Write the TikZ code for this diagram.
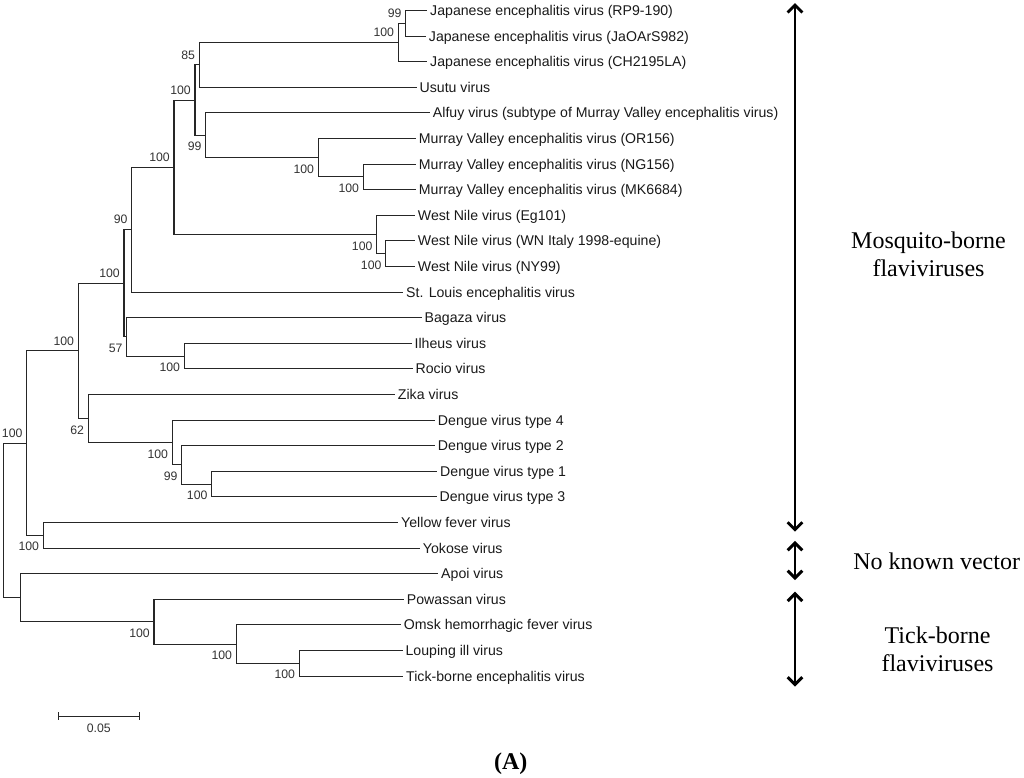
\documentclass[tikz,border=0pt]{standalone}
\usepackage{fontspec}
\setmainfont{Liberation Serif}
\newfontfamily\arialfont{Liberation Sans}
\usetikzlibrary{arrows.meta}

\begin{document}
\begin{tikzpicture}
[x=0.75pt, y=-19.2pt,
every node/.style={inner sep=0pt},
leaf/.style={anchor=west, inner xsep=2pt, text height=7.6pt, text depth=0pt, font=\fontsize{10.6}{12}\arialfont, text=black!90},
bootup/.style={anchor=east, font=\fontsize{9.2}{11}\arialfont, text=black!80, xshift=-3pt, yshift=7.5pt},
bootdown/.style={anchor=east, font=\fontsize{9.2}{11}\arialfont, text=black!80, xshift=-3pt, yshift=-8.6pt},
branch/.style={line width=0.8pt, draw=black!85},
group/.style={line width=2.2pt, {Straight Barb[length=5.5pt,width=11pt]}-{Straight Barb[length=5.5pt,width=11pt]}},
grouplabel/.style={align=center, font=\fontsize{18}{21}\selectfont}]
\useasboundingbox (0,-0.41) rectangle (1024,29.98);
% leaves
\node (1) [leaf] at (427.3, 0) {Japanese encephalitis virus (RP9-190)};
\node (2) [leaf] at (426.0, 1) {Japanese encephalitis virus (JaOArS982)};
\node (3) [leaf] at (427.3, 2) {Japanese encephalitis virus (CH2195LA)};
\node (4) [leaf] at (416.7, 3) {Usutu virus};
\node (5) [leaf] at (430.0, 4) {Alfuy virus (subtype of Murray Valley encephalitis virus)};
\node (6) [leaf] at (416.0, 5) {Murray Valley encephalitis virus (OR156)};
\node (7) [leaf] at (416.0, 6) {Murray Valley encephalitis virus (NG156)};
\node (8) [leaf] at (416.0, 7) {Murray Valley encephalitis virus (MK6684)};
\node (9) [leaf] at (415.0, 8) {West Nile virus (Eg101)};
\node (10) [leaf] at (415.0, 9) {West Nile virus (WN Italy 1998-equine)};
\node (11) [leaf] at (415.0, 10) {West Nile virus (NY99)};
\node (12) [leaf] at (403.3, 11) {St. Louis encephalitis virus};
\node (13) [leaf] at (421.7, 12) {Bagaza virus};
\node (14) [leaf] at (411.7, 13) {Ilheus virus};
\node (15) [leaf] at (412.7, 14) {Rocio virus};
\node (16) [leaf] at (395.0, 15) {Zika virus};
\node (17) [leaf] at (435.0, 16) {Dengue virus type 4};
\node (18) [leaf] at (435.0, 17) {Dengue virus type 2};
\node (19) [leaf] at (437.3, 18) {Dengue virus type 1};
\node (20) [leaf] at (436.7, 19) {Dengue virus type 3};
\node (21) [leaf] at (398.3, 20) {Yellow fever virus};
\node (22) [leaf] at (420.0, 21) {Yokose virus};
\node (23) [leaf] at (438.3, 22) {Apoi virus};
\node (24) [leaf] at (404.0, 23) {Powassan virus};
\node (25) [leaf] at (401.0, 24) {Omsk hemorrhagic fever virus};
\node (26) [leaf] at (402.7, 25) {Louping ill virus};
\node (27) [leaf] at (403.3, 26) {Tick-borne encephalitis virus};
% inner nodes
\coordinate (28) at (405.7, 0.5);
\coordinate (29) at (398.3, 1.25);
\coordinate (30) at (199.3, 2.125);
\coordinate (31) at (363.3, 6.5);
\coordinate (32) at (318.3, 5.75);
\coordinate (33) at (205.7, 4.875);
\coordinate (34) at (195.0, 3.5);
\coordinate (35) at (385.7, 9.5);
\coordinate (36) at (376.7, 8.75);
\coordinate (37) at (174.0, 6.125);
\coordinate (38) at (131.7, 8.5625);
\coordinate (39) at (184.3, 13.5);
\coordinate (40) at (126.7, 12.75);
\coordinate (41) at (124.0, 10.65625);
\coordinate (42) at (211.7, 18.5);
\coordinate (43) at (181.7, 17.75);
\coordinate (44) at (172.3, 16.875);
\coordinate (45) at (88.3, 15.9375);
\coordinate (46) at (78.3, 13.296875);
\coordinate (47) at (43.3, 20.5);
\coordinate (48) at (26.7, 16.8984);
\coordinate (49) at (299.3, 25.5);
\coordinate (50) at (236.3, 24.75);
\coordinate (51) at (154.0, 23.875);
\coordinate (52) at (20.7, 22.9375);
\coordinate (53) at (3.3, 19.918);
% bootstrap values
\node (b28) [bootup] at (28) {99};
\node (b29) [bootup] at (29) {100};
\node (b30) [bootup] at (30) {85};
\node (b31) [bootdown] at (31) {100};
\node (b32) [bootdown] at (32) {100};
\node (b33) [bootdown] at (33) {99};
\node (b34) [bootup] at (34) {100};
\node (b35) [bootdown] at (35) {100};
\node (b36) [bootdown] at (36) {100};
\node (b37) [bootup] at (37) {100};
\node (b38) [bootup] at (38) {90};
\node (b39) [bootdown] at (39) {100};
\node (b40) [bootdown] at (40) {57};
\node (b41) [bootup] at (41) {100};
\node (b42) [bootdown] at (42) {100};
\node (b43) [bootdown] at (43) {99};
\node (b44) [bootdown] at (44) {100};
\node (b45) [bootdown] at (45) {62};
\node (b46) [bootup] at (46) {100};
\node (b47) [bootdown] at (47) {100};
\node (b48) [bootup] at (48) {100};
\node (b49) [bootdown] at (49) {100};
\node (b50) [bootdown] at (50) {100};
\node (b51) [bootdown] at (51) {100};
% branches
\draw [branch] (28) |- (1.west);
\draw [branch] (28) |- (2.west);
\draw [branch] (29) |- (28);
\draw [branch] (29) |- (3.west);
\draw [branch] (30) |- (29);
\draw [branch] (30) |- (4.west);
\draw [branch] (31) |- (7.west);
\draw [branch] (31) |- (8.west);
\draw [branch] (32) |- (6.west);
\draw [branch] (32) |- (31);
\draw [branch] (33) |- (5.west);
\draw [branch] (33) |- (32);
\draw [branch] (34) |- (30);
\draw [branch] (34) |- (33);
\draw [branch] (35) |- (10.west);
\draw [branch] (35) |- (11.west);
\draw [branch] (36) |- (9.west);
\draw [branch] (36) |- (35);
\draw [branch] (37) |- (34);
\draw [branch] (37) |- (36);
\draw [branch] (38) |- (37);
\draw [branch] (38) |- (12.west);
\draw [branch] (39) |- (14.west);
\draw [branch] (39) |- (15.west);
\draw [branch] (40) |- (13.west);
\draw [branch] (40) |- (39);
\draw [branch] (41) |- (38);
\draw [branch] (41) |- (40);
\draw [branch] (42) |- (19.west);
\draw [branch] (42) |- (20.west);
\draw [branch] (43) |- (18.west);
\draw [branch] (43) |- (42);
\draw [branch] (44) |- (17.west);
\draw [branch] (44) |- (43);
\draw [branch] (45) |- (16.west);
\draw [branch] (45) |- (44);
\draw [branch] (46) |- (41);
\draw [branch] (46) |- (45);
\draw [branch] (47) |- (21.west);
\draw [branch] (47) |- (22.west);
\draw [branch] (48) |- (46);
\draw [branch] (48) |- (47);
\draw [branch] (49) |- (26.west);
\draw [branch] (49) |- (27.west);
\draw [branch] (50) |- (25.west);
\draw [branch] (50) |- (49);
\draw [branch] (51) |- (24.west);
\draw [branch] (51) |- (50);
\draw [branch] (52) |- (23.west);
\draw [branch] (52) |- (51);
\draw [branch] (53) |- (48);
\draw [branch] (53) |- (52);
% scale bar
\coordinate (54) at (58.3, 27.56);
\coordinate (55) at (139.3, 27.56);
\draw [branch] (54) -- (55);
\draw [branch] ([yshift=3pt]54) -- ([yshift=-3pt]54);
\draw [branch] ([yshift=3pt]55) -- ([yshift=-3pt]55);
\node (56) [font=\fontsize{9.2}{11}\arialfont, text=black!80] at (98.8, 28.03) {0.05};
% groups
\coordinate (57) at (795, -0.29);
\coordinate (58) at (795, 20.36);
\coordinate (59) at (795, 20.72);
\coordinate (60) at (795, 22.25);
\coordinate (61) at (795, 22.70);
\coordinate (62) at (795, 26.41);
\draw [group] (57) -- (58);
\draw [group] (59) -- (60);
\draw [group] (61) -- (62);
\node (63) [grouplabel] at (928.5, 9.51) {Mosquito-borne\\flaviviruses};
\node (64) [grouplabel] at (936.7, 21.53) {No known vector};
\node (65) [grouplabel] at (937.5, 24.94) {Tick-borne\\flaviviruses};
\node (66) [font=\fontsize{18}{21}\selectfont\bfseries] at (510.8, 29.43) {(A)};
\end{tikzpicture}
\end{document}
